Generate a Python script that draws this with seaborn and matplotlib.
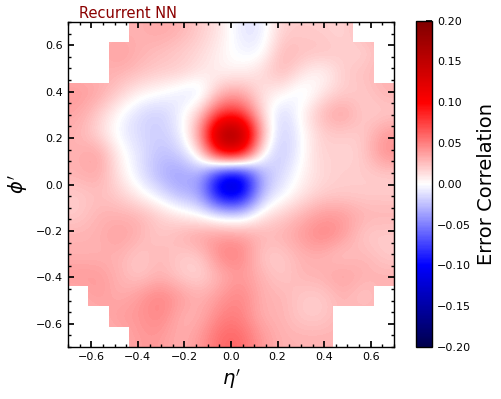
"""Error-correlation map in (eta', phi') for the recurrent network."""
import matplotlib
matplotlib.use("Agg")
import matplotlib.pyplot as plt
import numpy as np
import seaborn as sns
from matplotlib.ticker import MultipleLocator

TITLE = "Recurrent NN"
EXTENT = [-0.7, 0.7, -0.7, 0.7]
CBAR_TICKS = [-0.20, -0.15, -0.10, -0.05, 0.00, 0.05, 0.10, 0.15, 0.20]

# one list per phi' row, top (phi'=+0.7) to bottom; None = outside acceptance
n = None
row_00 = [n, n, n, 0.030, 0.035, 0.030, 0.020, 0.010, -0.010, -0.010, 0.020, 0.020, 0.020, 0.015, n, n]
row_01 = [n, n, 0.040, 0.030, 0.025, 0.020, 0.015, 0.005, -0.005, -0.005, 0.030, 0.025, 0.025, 0.020, 0.015, n]
row_02 = [n, n, 0.030, 0.025, 0.020, 0.020, 0.010, 0.005, 0.005, 0.015, 0.030, 0.010, 0.000, 0.020, 0.025, n]
row_03 = [0.040, 0.035, 0.020, 0.005, 0.000, -0.010, -0.015, 0.030, 0.035, 0.010, 0.005, -0.010, 0.010, 0.020, 0.020, 0.030]
row_04 = [0.035, 0.020, 0.000, -0.015, -0.020, -0.005, 0.020, 0.080, 0.080, 0.015, -0.020, 0.005, 0.030, 0.040, 0.020, 0.020]
row_05 = [0.030, 0.015, -0.005, -0.015, -0.020, -0.010, 0.040, 0.180, 0.180, 0.030, -0.025, 0.000, 0.020, 0.020, 0.020, 0.040]
row_06 = [0.030, 0.040, 0.005, -0.010, -0.025, -0.020, 0.010, 0.110, 0.110, 0.000, -0.025, 0.000, 0.020, 0.015, 0.020, 0.045]
row_07 = [0.030, 0.035, 0.010, -0.010, -0.030, -0.040, -0.030, -0.110, -0.120, -0.030, -0.015, 0.005, 0.015, 0.020, 0.020, 0.020]
row_08 = [0.020, 0.025, 0.020, 0.005, -0.010, -0.030, -0.035, -0.120, -0.120, -0.025, -0.005, 0.010, 0.020, 0.020, 0.020, 0.020]
row_09 = [0.020, 0.030, 0.030, 0.030, 0.020, 0.010, 0.000, -0.010, -0.015, 0.010, 0.020, 0.030, 0.040, 0.040, 0.030, 0.030]
row_10 = [0.030, 0.030, 0.040, 0.030, 0.020, 0.030, 0.040, 0.040, 0.040, 0.030, 0.030, 0.040, 0.050, 0.040, 0.020, 0.020]
row_11 = [0.030, 0.030, 0.030, 0.020, 0.030, 0.020, 0.020, 0.050, 0.050, 0.020, 0.020, 0.030, 0.030, 0.020, 0.030, 0.020]
row_12 = [0.040, 0.040, 0.030, 0.020, 0.030, 0.020, 0.015, 0.030, 0.040, 0.030, 0.020, 0.030, 0.030, 0.040, 0.030, 0.030]
row_13 = [n, 0.040, 0.030, 0.040, 0.050, 0.040, 0.030, 0.040, 0.050, 0.030, 0.030, 0.020, 0.020, 0.030, 0.020, n]
row_14 = [n, n, 0.040, 0.040, 0.050, 0.030, 0.030, 0.050, 0.050, 0.030, 0.030, 0.020, 0.020, n, n, n]
row_15 = [n, n, n, 0.040, 0.040, 0.030, 0.040, 0.060, 0.060, 0.040, 0.030, 0.030, 0.030, n, n, n]

rows = [row_00, row_01, row_02, row_03, row_04, row_05, row_06, row_07,
        row_08, row_09, row_10, row_11, row_12, row_13, row_14, row_15]

sns.set_theme(style="ticks", rc={
    "xtick.direction": "in", "ytick.direction": "in",
    "xtick.top": True, "ytick.right": True,
    "xtick.minor.visible": True, "ytick.minor.visible": True,
    "xtick.major.size": 4, "ytick.major.size": 4,
    "xtick.minor.size": 2.2, "ytick.minor.size": 2.2,
    "axes.edgecolor": "black", "axes.labelcolor": "black", "text.color": "black",
    "xtick.color": "black", "ytick.color": "black",
    "xtick.labelsize": 8, "ytick.labelsize": 8, "axes.linewidth": 1.0,
})

grid = np.array([[np.nan if v is None else v for v in r] for r in rows])
outside = np.isnan(grid)
# cells outside get a neutral value so the smoothing has no holes; they are
# painted over with a crisp white mask afterwards
smooth = np.where(outside, 0.03, grid)
cover = np.zeros(grid.shape + (4,))
cover[outside] = [1, 1, 1, 1]

fig = plt.figure(figsize=(5.02, 3.99), dpi=100)
ax = fig.add_axes([0.1355, 0.1303, 0.6494, 0.8145])
cax = fig.add_axes([0.8287, 0.1303, 0.0319, 0.8178])

im = ax.imshow(smooth, cmap="seismic", vmin=-0.2, vmax=0.2, extent=EXTENT,
               interpolation="bicubic", aspect="auto")
ax.imshow(cover, extent=EXTENT, interpolation="nearest", aspect="auto")
ax.set_xlim(-0.7, 0.7)
ax.set_ylim(-0.7, 0.7)
for axis in (ax.xaxis, ax.yaxis):
    axis.set_major_locator(MultipleLocator(0.2))
    axis.set_minor_locator(MultipleLocator(0.05))
ax.set_xlabel(r"$\eta'$", fontsize=14)
ax.set_ylabel(r"$\phi'$", fontsize=14)
ax.text(0.034, 1.012, TITLE, transform=ax.transAxes, color="darkred",
        fontsize=10.5, va="baseline", ha="left")

cb = fig.colorbar(im, cax=cax)
cb.set_ticks(CBAR_TICKS)
cb.ax.yaxis.set_minor_locator(MultipleLocator(0.01))
cb.ax.tick_params(which="both", direction="in", labelsize=8)
cb.outline.set_edgecolor("black")
cb.set_label("Error Correlation", fontsize=14)

fig.savefig("out.png", dpi=100)
